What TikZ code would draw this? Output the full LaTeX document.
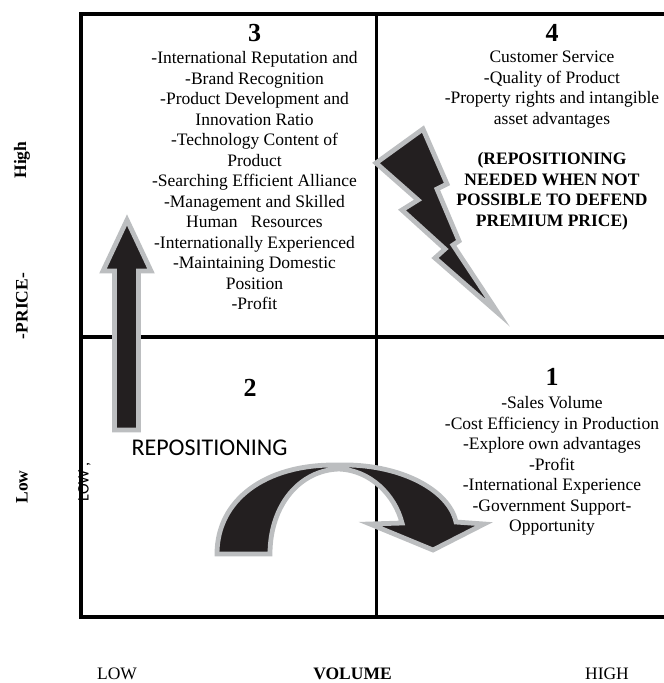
\documentclass[tikz,border=0pt]{standalone}
\usepackage{fontspec}
\setmainfont{Liberation Serif}
\newfontfamily\signfont{Carlito}
\usepackage{xcolor}
\usepackage{tikz}
\usetikzlibrary{positioning}
\definecolor{arrowblack}{RGB}{35,31,32}
\definecolor{arrowgrey}{RGB}{188,190,192}

\begin{document}
\begin{tikzpicture}
	[x=1pt, y=-1pt, font=\fontsize{17.5}{20.5}\selectfont,
	% STYLES
	% The frame style is used for the outer border of the matrix
	frame/.style={draw, line width=4pt},
	% The grid style is used for the lines between the quadrants
	grid/.style={draw, line width=3.5pt},
	% The quadnum style is used to draw the number of each quadrant
	quadnum/.style={font=\fontsize{26}{28}\selectfont\bfseries, inner sep=0pt},
	% The quadtext style is used for the list in each quadrant
	quadtext/.style={align=center, inner sep=0pt},
	% The axis style is used for the labels along the price axis
	axis/.style={font=\fontsize{17.5}{20.5}\selectfont\bfseries, rotate=90, inner sep=0pt},
	% The blockarrow style is used for the black arrows with grey border
	blockarrow/.style={draw=arrowgrey, fill=arrowblack, line width=4.8pt, line join=miter}]
	
	\useasboundingbox (0,0) rectangle (664,683);
	
	% matrix frame and quadrant lines
	\draw[frame] (667,13.7) -| (80.5,617) -- (667,617);
	\draw[grid] (376.5,13.7) -- (376.5,617);
	\draw[grid] (80.5,337) -- (667,337);
	
	% arrow up from 2 to 3
	\filldraw[blockarrow] (127,220) -- (151,271) -- (138.5,271) -- (138.5,430)
		-- (114.5,430) -- (114.5,271) -- (103,271) -- cycle;
	% lightning from 4 to 3
	\filldraw[blockarrow] (376,163) -- (423,129) -- (447,184) -- (437,189)
		-- (459,241) -- (453,245) -- (498,313) -- (435,258) -- (445,249)
		-- (402,210) -- (418,200) -- cycle;
	% curved arrow from 2 to 1
	\filldraw[blockarrow] (217,554) .. controls (217,500) and (265,464) .. (337,465)
		.. controls (400,463) and (449,490) .. (456,522) -- (484,524) -- (433,550)
		-- (370,524) -- (402,523) .. controls (395,495) and (370,470) .. (339,469)
		.. controls (300,470) and (270,505) .. (270,554) -- cycle;
	
	% quadrant 3, top left
	\node [quadnum] (Three) at (254.5,33) {3};
	\node [quadtext] (ThreeList) at (254.5,181) {-International Reputation and\\-Brand Recognition\\-Product Development and\\Innovation Ratio\\-Technology Content of\\Product\\-Searching Efficient Alliance\\-Management and Skilled\\Human~~~Resources\\-Internationally Experienced\\-Maintaining Domestic\\Position\\-Profit};
	% quadrant 4, top right
	\node [quadnum] (Four) at (552,33) {4};
	\node [quadtext] (FourList) at (552,89.5) {Customer Service\\-Quality of Product\\-Property rights and intangible\\asset advantages};
	\node [quadtext, font=\fontsize{17.5}{20.5}\selectfont\bfseries] (FourNote) at (552,191.5) {(REPOSITIONING\\NEEDED WHEN NOT\\POSSIBLE TO DEFEND\\PREMIUM PRICE)};
	% quadrant 2, bottom left
	\node [quadnum] (Two) at (250,388) {2};
	\node [inner sep=0pt, font=\fontsize{24}{26}\signfont] (Repos) at (209.5,448) {REPOSITIONING};
	\node [inner sep=0pt, rotate=90, font=\fontsize{16}{18}\signfont] (LowTick) at (84.5,482) {LOW ,};
	% quadrant 1, bottom right
	\node [quadnum] (One) at (552,377) {1};
	\node [quadtext] (OneList) at (552,466) {-Sales Volume\\-Cost Efficiency in Production\\-Explore own advantages\\-Profit\\-International Experience\\-Government Support-\\Opportunity};
	
	% price axis
	\node [axis] (High) at (22,160) {High};
	\node [axis] (Price) at (22,306) {-PRICE-};
	\node [axis] (Low) at (22,487) {Low};
	% volume axis
	\node [inner sep=0pt] (LowVol) at (117,674) {LOW};
	\node [inner sep=0pt, font=\fontsize{17.5}{20.5}\selectfont\bfseries] (Volume) at (352.5,674) {VOLUME};
	\node [inner sep=0pt] (HighVol) at (607,674) {HIGH};
	
\end{tikzpicture}
\end{document}
